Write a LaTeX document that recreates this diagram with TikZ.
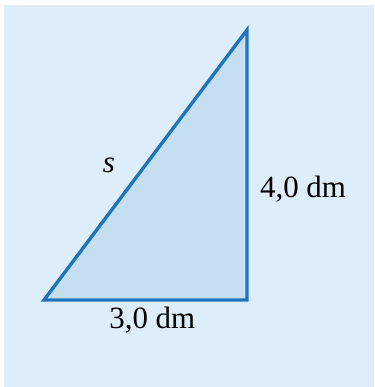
\documentclass[tikz,border=0pt]{standalone}
\usepackage{fontspec}
\setmainfont{Liberation Serif}
\usepackage{xcolor}
\usetikzlibrary{positioning,calc}
\definecolor{bgblue}{HTML}{DDEEFA}
\definecolor{triblue}{HTML}{C5DFF1}
\definecolor{edgeblue}{HTML}{1F74BC}
\tikzset{side/.style={font=\fontsize{22}{24}\selectfont,inner sep=2pt}}
\begin{document}
\begin{tikzpicture}
\useasboundingbox(0,0)rectangle(9.35,9.675);
\fill[bgblue](0.1,0)rectangle(9.35,9.55);
\coordinate(A)at(1.1,2.175);
\coordinate(B)at(6.175,2.175);
\coordinate(C)at(6.175,8.925);
\draw[edgeblue,fill=triblue,line width=2.4pt,line join=miter](A)--(B)--(C)--cycle;
\node[side](s)at(2.72,5.55){\textit{s}};
\node[side,right=0.25cm of $(B)!0.5!(C)$,yshift=-0.6cm](h){4,0 dm};
\node[side,below=0.1cm of $(A)!0.5!(B)$,xshift=0.17cm](b){3,0 dm};
\end{tikzpicture}
\end{document}
